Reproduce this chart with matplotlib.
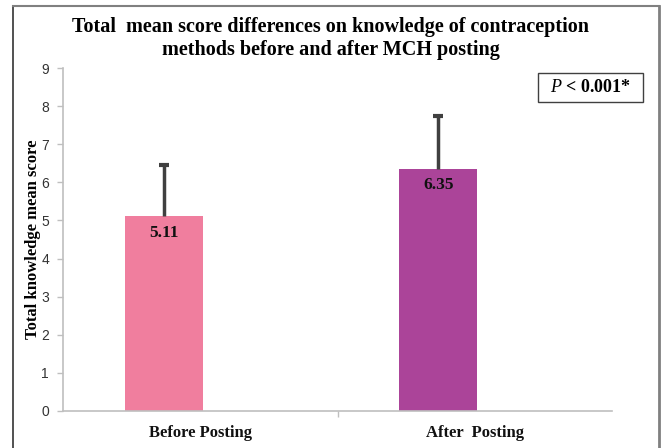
import matplotlib.pyplot as plt
from matplotlib.lines import Line2D
from matplotlib.patches import Rectangle

plt.rcParams['mathtext.fontset'] = 'custom'
plt.rcParams['mathtext.it'] = 'Liberation Serif:italic'
plt.rcParams['mathtext.rm'] = 'Liberation Serif'

categories = ['Before Posting', 'After  Posting']
means = [5.11, 6.35]
errors = [1.35, 1.39]
bar_colors = ['#F07E9E', '#AB4499']

fig = plt.figure(figsize=(6.61, 4.48), dpi=100)
ax = fig.add_axes([0.0953, 0.0826, 0.8307, 0.7654])

serif = 'Liberation Serif'
x = [0, 1]
offset = -0.133
bx = [i + offset for i in x]
ax.bar(bx, means, width=0.284, color=bar_colors, zorder=2)
# upward-only error bars with a cap on top
ax.errorbar(bx, means, yerr=[[0, 0], errors], fmt='none', ecolor='#404040',
            elinewidth=2.5, capsize=0, zorder=3)
tops = [m + e for m, e in zip(means, errors)]
ax.plot(bx, tops, ls='none', marker='_', ms=7, mew=3, color='#404040', zorder=3)

for xi, m in zip(bx, means):
    ax.text(xi, m - 0.22, f'{m:.2f}', ha='center', va='top', fontsize=12.5,
            fontweight='bold', family=serif, color='#111111', zorder=4)

ax.set_xlim(-0.5, 1.5)
ax.set_ylim(0, 9)
ax.set_yticks(range(10))
ax.set_xticks([0.5])
ax.set_xticklabels([''])
for xi, lab in zip(x, categories):
    ax.text(xi, -0.38, lab, ha='center', va='top', fontsize=12,
            fontweight='bold', family=serif, color='#111111')

for s in ['top', 'right']:
    ax.spines[s].set_visible(False)
for s in ['left', 'bottom']:
    ax.spines[s].set_color('#BFBFBF')
    ax.spines[s].set_linewidth(1.2)
ax.tick_params(axis='both', colors='#BFBFBF', length=4, width=1)
ax.tick_params(axis='y', labelcolor='#333333', labelsize=10, pad=6)
for t in ax.get_yticklabels():
    t.set_family('Liberation Sans')

ax.set_ylabel('Total knowledge mean score', fontsize=12, fontweight='bold',
              family=serif, labelpad=0)

fig.text(0.5, 0.915, 'Total  mean score differences on knowledge of contraception\n'
         'methods before and after MCH posting', ha='center', va='center',
         fontsize=14.5, fontweight='bold', family=serif, linespacing=1.2)

fig.add_artist(Rectangle((0.814, 0.772), 0.159, 0.0647, transform=fig.transFigure,
                         fc='white', ec='#404040', lw=1))
fig.text(0.8935, 0.804, r'$P$ < 0.001*', ha='center', va='center', fontsize=13,
         fontweight='bold', family=serif)

# figure frame
fig.add_artist(Line2D([0.0197, 0.0197], [0.0, 0.987], color='#333333', lw=1.2))
fig.add_artist(Line2D([0.0197, 0.997], [0.987, 0.987], color='#808080', lw=1.5))
fig.add_artist(Line2D([0.997, 0.997], [0.0, 0.987], color='#808080', lw=2))

fig.savefig('out.png', dpi=100)
